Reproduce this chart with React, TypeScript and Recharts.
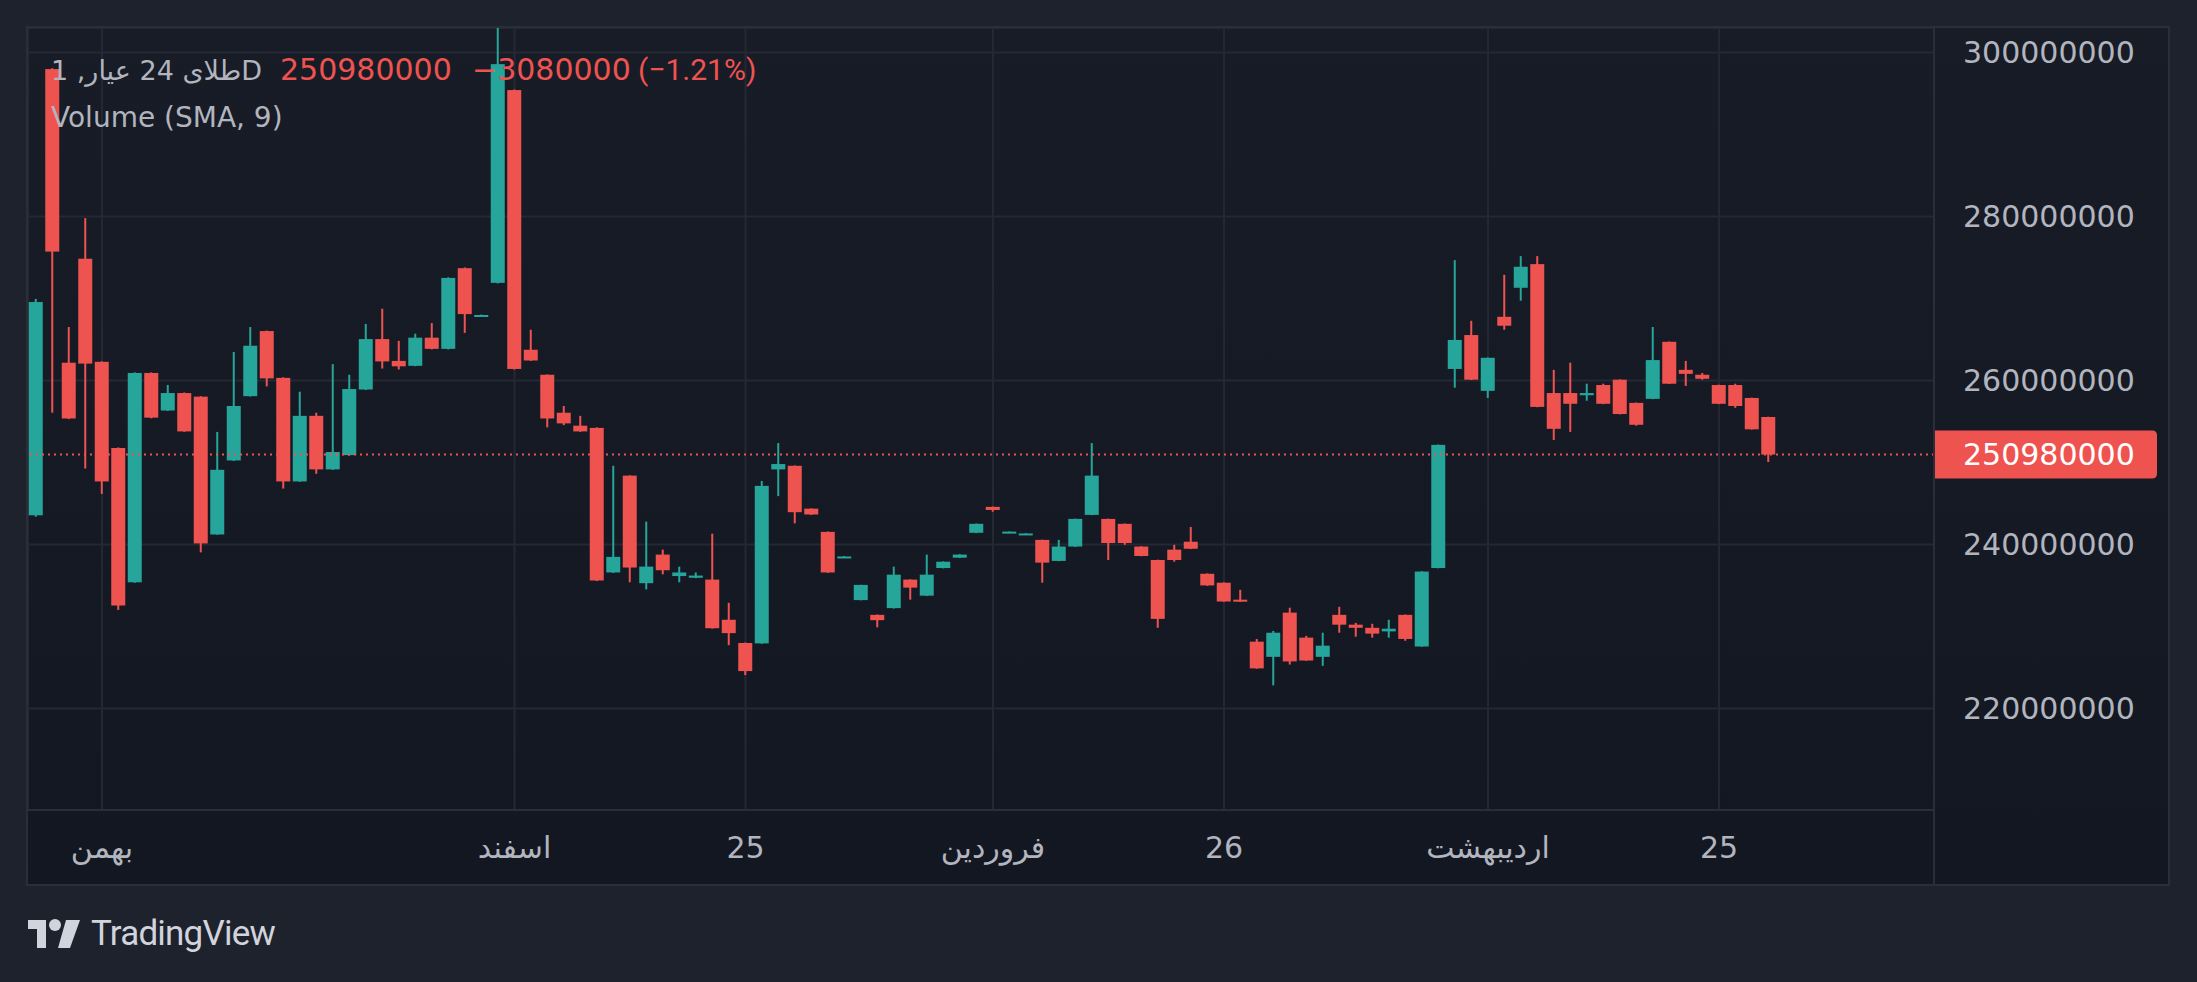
import React from 'react';
import { ComposedChart, Bar, XAxis, YAxis, CartesianGrid, ReferenceLine } from 'recharts';

// Prices in millions of rials (daily candles)
const opens = [
  243.57, 297.99, 262.18, 274.86, 262.29, 251.78, 235.40, 260.93, 256.35, 258.48,
  258.04, 241.23, 250.26, 258.10, 266.04, 260.33, 247.70, 255.70, 249.17, 250.91,
  258.91, 265.06, 262.40, 261.80, 265.23, 263.87, 273.71, 267.90, 271.92, 295.43,
  263.76, 260.71, 256.08, 254.50, 254.23, 236.60, 248.41, 235.29, 238.78, 236.16,
  235.95, 235.73, 230.83, 228.00, 227.95, 249.17, 249.61, 244.38, 241.55, 238.45,
  233.23, 231.43, 232.25, 235.73, 233.77, 237.14, 238.40, 241.44, 244.60, 241.42,
  241.20, 240.57, 238.01, 239.76, 243.62, 243.13, 242.53, 239.76, 238.12, 239.38,
  240.35, 236.44, 235.35, 233.28, 228.16, 226.31, 231.70, 228.65, 226.31, 231.43,
  230.23, 229.85, 229.41, 231.43, 227.57, 237.14, 261.42, 265.55, 258.75, 267.78,
  271.32, 274.20, 258.48, 258.48, 258.21, 259.46, 260.11, 257.28, 257.77, 264.73,
  261.31, 260.71, 259.46, 259.46, 257.88, 255.56,
];
const highs = [
  269.96, 298.10, 266.53, 279.81, 262.35, 251.85, 261.00, 261.00, 259.46, 258.55,
  258.10, 253.74, 263.48, 266.53, 266.10, 260.40, 258.64, 256.08, 262.01, 260.71,
  266.91, 268.76, 264.84, 265.72, 267.02, 272.60, 273.80, 268.05, 303.50, 295.50,
  266.20, 260.75, 256.90, 255.70, 254.30, 249.61, 248.45, 242.80, 239.38, 237.31,
  236.60, 241.33, 232.90, 228.05, 247.76, 252.38, 249.65, 244.42, 241.60, 238.60,
  235.10, 231.47, 237.31, 235.77, 238.78, 237.95, 238.82, 242.57, 244.64, 241.60,
  241.38, 240.60, 240.57, 243.17, 252.38, 243.17, 242.57, 239.80, 238.16, 239.97,
  242.15, 236.48, 235.39, 234.48, 228.49, 229.47, 232.30, 228.87, 229.25, 232.41,
  230.45, 230.34, 230.83, 231.47, 236.75, 252.20, 274.69, 267.29, 262.82, 272.90,
  275.18, 275.18, 261.31, 262.18, 259.62, 259.62, 260.15, 257.32, 266.53, 264.77,
  262.40, 260.93, 259.50, 259.62, 257.92, 255.60,
];
const lows = [
  243.40, 256.08, 255.30, 249.28, 246.18, 232.03, 235.35, 255.40, 256.30, 253.75,
  239.05, 241.20, 250.20, 258.05, 259.29, 246.83, 247.65, 248.63, 249.10, 250.85,
  258.85, 261.47, 261.36, 261.75, 263.80, 263.80, 265.82, 267.85, 271.85, 261.35,
  262.40, 254.29, 254.56, 253.75, 235.55, 236.55, 235.40, 234.53, 236.37, 235.40,
  235.90, 229.75, 227.73, 224.08, 227.90, 245.91, 242.59, 243.62, 236.55, 238.40,
  233.20, 229.91, 232.20, 233.28, 233.72, 237.10, 238.36, 241.40, 244.00, 241.40,
  241.18, 235.35, 237.97, 239.72, 243.58, 238.12, 239.97, 238.57, 229.85, 237.91,
  239.45, 234.98, 233.02, 233.02, 224.86, 222.83, 225.37, 225.82, 225.21, 229.25,
  228.76, 228.65, 228.65, 228.27, 227.53, 237.10, 259.13, 260.07, 257.88, 266.20,
  269.74, 256.75, 252.76, 253.74, 257.55, 257.13, 255.88, 254.50, 257.73, 259.58,
  259.35, 260.11, 257.13, 256.68, 254.02, 250.07,
];
const closes = [
  269.58, 275.73, 255.38, 262.07, 247.70, 232.57, 260.93, 255.48, 258.48, 253.80,
  240.14, 249.12, 256.90, 264.25, 260.27, 247.70, 255.70, 249.17, 251.29, 258.97,
  265.06, 262.34, 261.74, 265.23, 263.87, 272.52, 268.11, 268.00, 298.59, 261.42,
  262.45, 255.38, 254.78, 253.80, 235.62, 238.50, 237.20, 237.31, 236.87, 236.60,
  236.22, 229.80, 229.20, 224.57, 247.16, 249.82, 243.95, 243.67, 236.60, 238.55,
  235.08, 230.78, 236.33, 234.75, 236.33, 237.91, 238.78, 242.53, 244.22, 241.58,
  241.36, 237.80, 239.76, 243.13, 248.41, 240.19, 240.19, 238.61, 230.94, 238.12,
  239.49, 235.02, 233.06, 233.06, 224.90, 229.25, 225.75, 225.86, 227.67, 230.23,
  229.85, 229.14, 229.74, 228.49, 236.71, 252.16, 264.95, 260.11, 262.78, 266.69,
  273.88, 256.79, 254.12, 257.17, 258.48, 257.17, 255.92, 254.61, 262.50, 259.62,
  260.82, 260.22, 257.17, 256.90, 254.06, 250.98,
];

const timeTickIndex = [4, 29, 43, 58, 72, 88, 102];
const timeTickLabels = ['بهمن', 'اسفند', '25', 'فروردین', '26', 'اردیبهشت', '25'];
const priceTicks = [220, 240, 260, 280, 300];
const lastPrice = 250.98;
const priceChange = -3.08;
const priceChangePct = -1.21;
const symbolTitle = 'طلای 24 عیار, 1D';
const indicatorTitle = 'Volume (SMA, 9)';

const GREEN = '#26a69a';
const RED = '#ef5350';
const TEXT = '#b2b5be';
const GRID = '#242833';
const BORDER = '#2a2e39';
const FONT = '"DejaVu Sans", sans-serif';

const data = opens.map((o, i) => ({
  i,
  open: o,
  high: highs[i],
  low: lows[i],
  close: closes[i],
  range: [lows[i], highs[i]],
}));

const fmtMillions = (v: number) => String(Math.round(v * 1e6));
const fmtSigned = (v: number) => (v < 0 ? '\u2212' : '+') + String(Math.round(Math.abs(v) * 1e6));
const fmtPct = (v: number) => '(' + (v < 0 ? '\u2212' : '+') + Math.abs(v).toFixed(2) + '%)';

const Candle = (props: any) => {
  const { x, y, width, height, payload } = props;
  if (!payload || x == null || y == null || height == null) return null;
  const { open, close, high, low } = payload;
  const top = Math.min(y, y + height);
  const h = Math.abs(height);
  const k = h / (high - low);
  const up = close >= open;
  const color = up ? GREEN : RED;
  const bodyTop = top + (high - Math.max(open, close)) * k;
  const bodyH = Math.max(Math.abs(open - close) * k, 2);
  const cx = x + width / 2;
  return (
    <g>
      <rect x={cx - 1} y={top} width={2} height={h} fill={color} />
      <rect x={x} y={bodyTop} width={width} height={bodyH} fill={color} />
    </g>
  );
};

const PriceBadge = (props: any) => {
  const vb = props.viewBox || {};
  const x0 = (vb.x || 0) + (vb.width || 0);
  const yc = vb.y || 0;
  const w = 223;
  const h = 48;
  const r = 5;
  const d = `M${x0},${yc - h / 2} H${x0 + w - r} Q${x0 + w},${yc - h / 2} ${x0 + w},${yc - h / 2 + r} V${yc + h / 2 - r} Q${x0 + w},${yc + h / 2} ${x0 + w - r},${yc + h / 2} H${x0} Z`;
  return (
    <g>
      <path d={d} fill={RED} />
      <text x={x0 + 29} y={yc} dy="0.355em" fill="#ffffff" fontSize={30} fontFamily={FONT}>
        {fmtMillions(lastPrice)}
      </text>
    </g>
  );
};

const TVLogo = () => (
  <svg width={60} height={32} style={{ position: 'absolute', left: 26, top: 917 }}>
    <path d="M2,3 H20 V31 H11 V12 H2 Z" fill="#d1d4dc" />
    <circle cx={29} cy={8} r={6} fill="#d1d4dc" />
    <path d="M40,3 H54 L44,31 H32 Z" fill="#d1d4dc" />
  </svg>
);

const headerText = (left: number, top: number, size: number, color: string, family: string) => ({
  position: 'absolute' as const,
  left,
  top,
  height: 36,
  lineHeight: '36px',
  fontSize: size,
  color,
  fontFamily: family,
  whiteSpace: 'nowrap' as const,
});

export default function App() {
  const xDomain = [-0.485, 115.03];
  const yDomain = [207.63, 303.0];
  return (
    <div
      style={{
        position: 'absolute',
        left: 0,
        top: 0,
        width: 2197,
        height: 982,
        background: '#1e222d',
        overflow: 'hidden',
        fontFamily: FONT,
      }}
    >
      <div
        style={{
          position: 'absolute',
          left: 26,
          top: 26,
          width: 2144,
          height: 860,
          boxSizing: 'border-box',
          border: `2px solid ${BORDER}`,
          background: 'linear-gradient(#181c27, #131722)',
        }}
      />
      <div style={{ position: 'absolute', left: 28, top: 28 }}>
        <ComposedChart
          width={2140}
          height={856}
          data={data}
          margin={{ top: 0, right: 0, bottom: 0, left: 0 }}
        >
          <CartesianGrid stroke={GRID} strokeWidth={2} />
          <XAxis
            dataKey="i"
            type="number"
            domain={xDomain}
            allowDataOverflow
            ticks={timeTickIndex}
            interval={0}
            tickFormatter={(v: number) => timeTickLabels[timeTickIndex.indexOf(v)] ?? ''}
            axisLine={false}
            tickLine={false}
            tickSize={0}
            tickMargin={27}
            height={74}
            tick={{ fill: TEXT, fontSize: 30, fontFamily: FONT }}
          />
          <YAxis
            orientation="right"
            type="number"
            domain={yDomain}
            allowDataOverflow
            ticks={priceTicks}
            interval={0}
            tickFormatter={fmtMillions}
            axisLine={false}
            tickLine={false}
            tickSize={0}
            tickMargin={29}
            width={234}
            tick={{ fill: TEXT, fontSize: 30, fontFamily: FONT, textAnchor: 'start' }}
          />
          <ReferenceLine
            y={lastPrice}
            stroke={RED}
            strokeWidth={2}
            strokeDasharray="2 4"
            label={<PriceBadge />}
          />
          <Bar dataKey="range" barSize={14} shape={<Candle />} isAnimationActive={false} />
        </ComposedChart>
      </div>
      <div style={{ position: 'absolute', left: 1933, top: 28, width: 2, height: 856, background: BORDER }} />
      <div style={{ position: 'absolute', left: 28, top: 809, width: 1906, height: 2, background: BORDER }} />

      <div style={headerText(51, 53, 27, TEXT, FONT)}>{symbolTitle}</div>
      <div style={headerText(280, 52, 30, RED, FONT)}>{fmtMillions(lastPrice)}</div>
      <div style={headerText(472, 52, 30, RED, FONT)}>{fmtSigned(priceChange)}</div>
      <div style={headerText(638, 52, 30, RED, 'Roboto, sans-serif')}>{fmtPct(priceChangePct)}</div>
      <div style={headerText(51, 100, 28, TEXT, FONT)}>{indicatorTitle}</div>

      <TVLogo />
      <div
        style={{
          position: 'absolute',
          left: 91,
          top: 914,
          height: 40,
          lineHeight: '40px',
          fontSize: 35,
          letterSpacing: -0.8,
          color: '#d1d4dc',
          fontFamily: 'Roboto, sans-serif',
          whiteSpace: 'nowrap',
        }}
      >
        TradingView
      </div>
    </div>
  );
}
